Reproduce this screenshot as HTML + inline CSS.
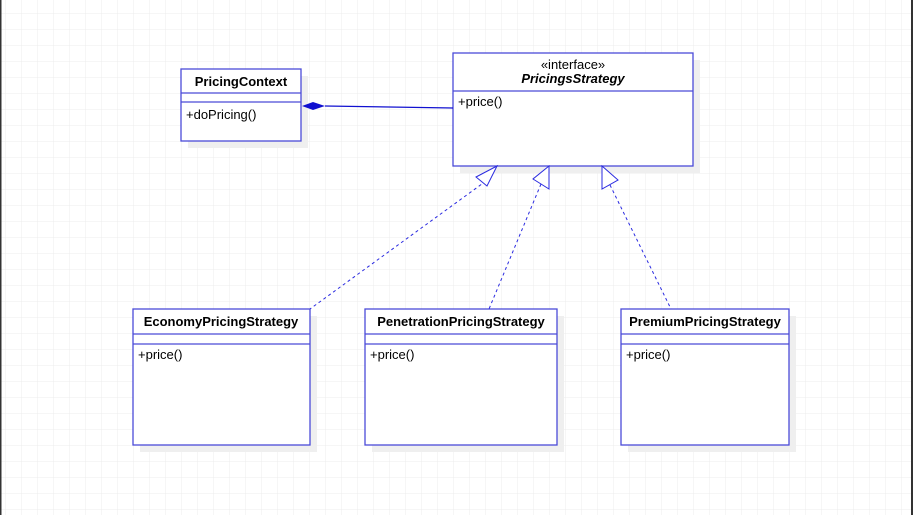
<!DOCTYPE html>
<html><head><style>
body{margin:0;width:913px;height:515px;overflow:hidden;background:#fff;}
</style></head><body>
<svg width="913" height="515" xmlns="http://www.w3.org/2000/svg" style="position:absolute;left:0;top:0;font-family:'Liberation Sans',Arial,sans-serif">
<defs><pattern id="g" x="5" y="13" width="16" height="16" patternUnits="userSpaceOnUse"><path d="M0 0H16M0 0V16" stroke="#ececec" stroke-width="1" fill="none"/></pattern></defs>
<rect width="913" height="515" fill="url(#g)"/>
<rect x="0" y="0" width="1.5" height="515" fill="#333"/>
<rect x="911" y="0" width="2" height="515" fill="#333"/>
<g fill="#efefef">
<rect x="188" y="76" width="120" height="72"/>
<rect x="460" y="60" width="240" height="113"/>
<rect x="140" y="316" width="177" height="136"/>
<rect x="372" y="316" width="192" height="136"/>
<rect x="628" y="316" width="168" height="136"/>
</g>
<g fill="#fff" stroke="#4b4bd8" stroke-width="1.3">
<rect x="181" y="69" width="120" height="72"/>
<line x1="181" y1="93" x2="301" y2="93"/><line x1="181" y1="102" x2="301" y2="102"/>
<rect x="453" y="53" width="240" height="113"/>
<line x1="453" y1="91" x2="693" y2="91"/>
<rect x="133" y="309" width="177" height="136"/>
<line x1="133" y1="334" x2="310" y2="334"/><line x1="133" y1="344" x2="310" y2="344"/>
<rect x="365" y="309" width="192" height="136"/>
<line x1="365" y1="334" x2="557" y2="334"/><line x1="365" y1="344" x2="557" y2="344"/>
<rect x="621" y="309" width="168" height="136"/>
<line x1="621" y1="334" x2="789" y2="334"/><line x1="621" y1="344" x2="789" y2="344"/>
</g>
<line x1="325" y1="106" x2="453" y2="108" stroke="#1010d0" stroke-width="1.2"/>
<polygon points="302,106 313,102 325,106 313,110" fill="#1010d0"/>
<g stroke="#2a2ae0" stroke-width="1" stroke-dasharray="3,3" fill="none">
<line x1="486" y1="181" x2="310" y2="309"/>
<line x1="541" y1="184" x2="489" y2="309"/>
<line x1="610" y1="185" x2="671" y2="309"/>
</g>
<g fill="#fff" stroke="#2a2ae0" stroke-width="1">
<polygon points="497,166 476,177 487,186"/>
<polygon points="549,166 533,179 549,189"/>
<polygon points="602,166 602,189 618,180"/>
</g>
<g font-size="13" fill="#000">
<text x="241" y="86" text-anchor="middle" font-weight="bold">PricingContext</text>
<text x="186" y="119">+doPricing()</text>
<text x="573" y="69" text-anchor="middle">«interface»</text>
<text x="573" y="83" text-anchor="middle" font-weight="bold" font-style="italic">PricingsStrategy</text>
<text x="458" y="106">+price()</text>
<text x="221" y="326" text-anchor="middle" font-weight="bold">EconomyPricingStrategy</text>
<text x="138" y="359">+price()</text>
<text x="461" y="326" text-anchor="middle" font-weight="bold">PenetrationPricingStrategy</text>
<text x="370" y="359">+price()</text>
<text x="705" y="326" text-anchor="middle" font-weight="bold">PremiumPricingStrategy</text>
<text x="626" y="359">+price()</text>
</g>
</svg>
</body></html>
